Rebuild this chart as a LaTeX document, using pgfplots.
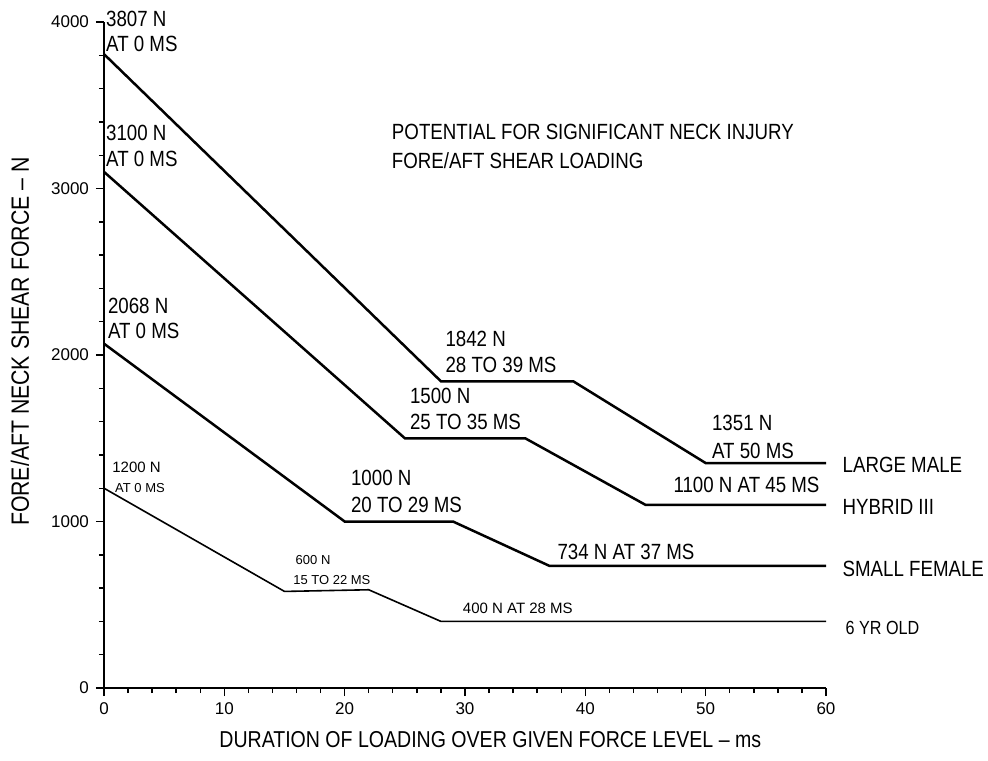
\documentclass[border=0pt]{standalone}
\usepackage{fontspec}
\setmainfont{Liberation Sans}
\newfontfamily\nar{Liberation Sans}[FakeStretch=0.85]
\usepackage{pgfplots}
\pgfplotsset{compat=1.18}
\begin{document}
\begin{tikzpicture}[
  lab/.style={anchor=base west, inner sep=0pt, font=\nar\fontsize{11}{13}\selectfont},
  hand/.style={anchor=base west, inner sep=0pt, font=\fontsize{7.5}{9}\selectfont},
]
\begin{axis}[
  scale only axis, width=361pt, height=333pt,
  xmin=0, xmax=60, ymin=0, ymax=4000,
  axis lines=left, axis line style={-, line width=0.9pt},
  xtick={0,10,...,60}, ytick={0,1000,...,4000},
  minor x tick num=4, minor y tick num=4,
  tick align=outside, major tick length=4pt, minor tick length=2.5pt,
  tick style={black, line width=0.7pt},
  ticklabel style={font=\fontsize{8.5}{10}\selectfont},
  /pgf/number format/assume math mode=true,
  /pgf/number format/set thousands separator={},
  xlabel={DURATION OF LOADING OVER GIVEN FORCE LEVEL \textendash{} ms},
  ylabel={FORE/AFT NECK SHEAR FORCE \textendash{} N},
  xlabel style={font=\nar\fontsize{11.5}{13}\selectfont, at={(rel axis cs:0.535,-0.09)}, anchor=base},
  ylabel style={font=\nar\fontsize{12.5}{14}\selectfont, at={(rel axis cs:-0.1163,0.52)}, anchor=center},
  clip=false,
]
% Large male
\addplot[black, line width=1.25pt] coordinates {(0,3807) (28,1842) (39,1842) (50,1351) (60,1351)};
% Hybrid III
\addplot[black, line width=1.25pt] coordinates {(0,3100) (25,1500) (35,1500) (45,1100) (60,1100)};
% Small female
\addplot[black, line width=1.25pt] coordinates {(0,2068) (20,1000) (29,1000) (37,734) (60,734)};
% 6 yr old
\addplot[black, line width=0.8pt] coordinates {(0,1200) (15,580) (22,590) (28,400) (60,400)};

\node[lab] at (axis cs:0.15,3970) {3807 N};
\node[lab] at (axis cs:0.15,3820) {AT 0 MS};
\node[lab] at (axis cs:0.15,3291) {3100 N};
\node[lab] at (axis cs:0.15,3135) {AT 0 MS};
\node[lab] at (axis cs:0.3,2252) {2068 N};
\node[lab] at (axis cs:0.3,2102) {AT 0 MS};
\node[hand] at (axis cs:0.66,1297) {1200 N};
\node[hand, font=\fontsize{6.5}{8}\selectfont] at (axis cs:0.9,1177) {AT 0 MS};

\node[lab] at (axis cs:23.9,3297) {POTENTIAL FOR SIGNIFICANT NECK INJURY};
\node[lab] at (axis cs:23.9,3123) {FORE/AFT SHEAR LOADING};

\node[lab] at (axis cs:28.35,2054) {1842 N};
\node[lab] at (axis cs:28.35,1892) {28 TO 39 MS};
\node[lab] at (axis cs:25.4,1706) {1500 N};
\node[lab] at (axis cs:25.4,1550) {25 TO 35 MS};
\node[lab] at (axis cs:20.5,1219) {1000 N};
\node[lab] at (axis cs:20.5,1057) {20 TO 29 MS};
\node[lab] at (axis cs:50.5,1544) {1351 N};
\node[lab] at (axis cs:50.5,1381) {AT 50 MS};
\node[lab] at (axis cs:47.3,1177) {1100 N AT 45 MS};
\node[lab] at (axis cs:37.66,769) {734 N AT 37 MS};
\node[hand, font=\fontsize{6.5}{8}\selectfont] at (axis cs:15.9,739) {600 N};
\node[hand, font=\fontsize{6.5}{8}\selectfont] at (axis cs:15.7,619) {15 TO 22 MS};
\node[hand] at (axis cs:29.8,450) {400 N AT 28 MS};

\node[lab] at (axis cs:61.35,1297) {LARGE MALE};
\node[lab] at (axis cs:61.35,1045) {HYBRID III};
\node[lab] at (axis cs:61.35,667) {SMALL FEMALE};
\node[lab, font=\nar\fontsize{9.5}{11}\selectfont] at (axis cs:61.6,320) {6 YR OLD};

\coordinate (O) at (rel axis cs:0,0);
\coordinate (T) at (rel axis cs:1,1);
\end{axis}
\pgfresetboundingbox
\path[use as bounding box] ([shift={(-52pt,-36pt)}]O) rectangle ([shift={(81pt,11pt)}]T);
\end{tikzpicture}
\end{document}
